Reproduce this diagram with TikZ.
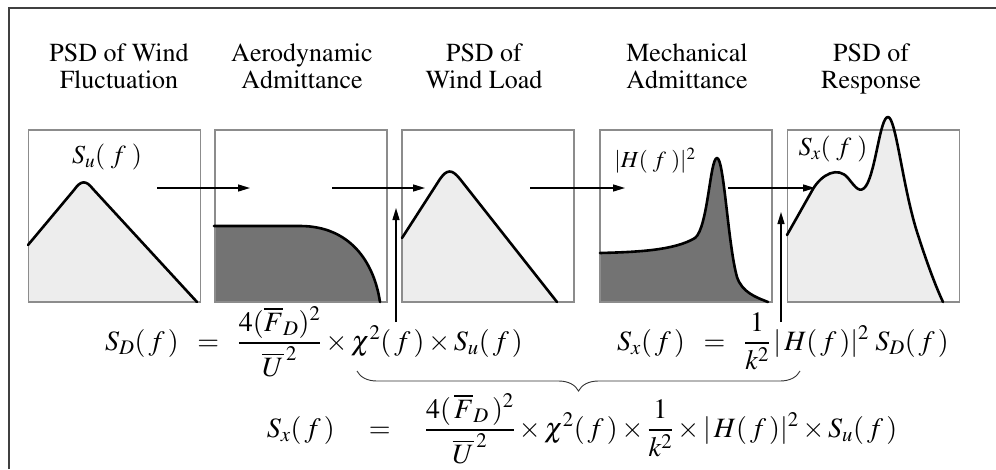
\documentclass[tikz,border=0pt]{standalone}
\usepackage{amsmath}
\usepackage[T1]{fontenc}
\usepackage{mathptmx}
\usepackage{tikz}
\usetikzlibrary{arrows.meta, positioning, calc, decorations.pathreplacing}

\begin{document}
\begin{tikzpicture}[
    x=1pt, y=-1pt,
    ttl/.style={
      align=center, inner sep=0pt,
      font=\fontfamily{ptm}\fontsize{26}{27}\selectfont
    },
    panel/.style={
      rectangle, draw=black!45, line width=1.8pt,
      minimum width=172pt, minimum height=172pt, inner sep=0pt
    },
    curve/.style={line width=2.6pt, line join=round, line cap=round},
    lightfill/.style={fill=black!7},
    darkfill/.style={fill=black!55},
    lab/.style={inner sep=0pt, font=\fontsize{26}{28}\selectfont},
    eq/.style={inner sep=1pt, anchor=base, font=\fontsize{28}{30}\selectfont},
    arr/.style={-{Triangle[length=12pt, width=7pt]}, line width=1.4pt},
    brace/.style={decorate, decoration={brace, mirror, amplitude=20pt}, line width=0.9pt, black!80}
  ]
    \useasboundingbox (0,0) rectangle (996,469);
    \draw[line width=1.5pt, black!75] (9,469) -- (9,8) -- (996,8);

    % titles
    \node[ttl] (title1) at (119,70) {PSD of Wind\strut\\Fluctuation\strut};
    \node[ttl] (title2) at (302,70) {Aerodynamic\strut\\Admittance\strut};
    \node[ttl] (title3) at (484,70) {PSD of\strut\\Wind Load\strut};
    \node[ttl] (title4) at (687,70) {Mechanical\strut\\Admittance\strut};
    \node[ttl] (title5) at (871,70) {PSD of\strut\\Response\strut};

    % areas under the curves
    \fill[lightfill] (28,245) -- (74,190) .. controls (81,180) and (86,180) .. (93,189) -- (197,302) -- (28,302) -- cycle;
    \fill[darkfill] (214,226) -- (300,226) .. controls (350,226) and (374,262) .. (380,302) -- (214,302) -- cycle;
    \fill[lightfill] (402,238) -- (440,179) .. controls (447,169) and (452,169) .. (460,179) -- (557,302) -- (402,302) -- cycle;
    \fill[darkfill] (600,253) .. controls (640,252) and (675,250) .. (695,238)
      .. controls (708,228) and (710,158) .. (717,158)
      .. controls (724,158) and (728,245) .. (737,277)
      .. controls (742,292) and (755,297) .. (768,302) -- (600,302) -- cycle;
    \fill[lightfill] (787,235) -- (813,189) .. controls (822,174) and (838,166) .. (848,178)
      .. controls (856,188) and (860,194) .. (866,186)
      .. controls (876,170) and (880,117) .. (888,117)
      .. controls (896,117) and (903,190) .. (918,235)
      .. controls (926,260) and (935,285) .. (943,302) -- (787,302) -- cycle;

    % panels
    \node[panel] (panel1) at (114.5,216) {};
    \node[panel] (panel2) at (301,216) {};
    \node[panel] (panel3) at (488,216) {};
    \node[panel] (panel4) at (686,216) {};
    \node[panel] (panel5) at (873.5,216) {};

    % curves
    \draw[curve] (28,245) -- (74,190) .. controls (81,180) and (86,180) .. (93,189) -- (197,302);
    \draw[curve] (214,226) -- (300,226) .. controls (350,226) and (374,262) .. (380,302);
    \draw[curve] (402,238) -- (440,179) .. controls (447,169) and (452,169) .. (460,179) -- (557,302);
    \draw[curve] (600,253) .. controls (640,252) and (675,250) .. (695,238)
      .. controls (708,228) and (710,158) .. (717,158)
      .. controls (724,158) and (728,245) .. (737,277)
      .. controls (742,292) and (755,297) .. (768,302);
    \draw[curve] (787,235) -- (813,189) .. controls (822,174) and (838,166) .. (848,178)
      .. controls (856,188) and (860,194) .. (866,186)
      .. controls (876,170) and (880,117) .. (888,117)
      .. controls (896,117) and (903,190) .. (918,235)
      .. controls (926,260) and (935,285) .. (943,302);

    % labels in panels
    \node[lab] (lab1) at (107,157) {$S_{u}(\;f\;)$};
    \node[lab, font=\fontsize{23}{25}\selectfont] (lab4) at (655,161) {$|H(\;f\;)|^{2}$};
    \node[lab] (lab5) at (833,149) {$S_{x}(\;f\;)$};

    % formulas
    \node[eq] (eqload) at (314,350) {$S_{D}(\,f\,) \;\;=\;\; \dfrac{4(\overline{F}_{D})^{2}}{\overline{U}^{\,2}}\times\chi^{2}(\,f\,)\times S_{u}(\,f\,)$};
    \node[eq] (eqresp) at (783,350) {$S_{x}(\,f\,) \;\;=\;\; \dfrac{1}{k^{2}}\,|\,H(\,f\,)|^{2}\;S_{D}(\,f\,)$};
    \node[eq] (eqtotal) at (582,437) {$S_{x}(\,f\,) \quad=\quad \dfrac{4(\,\overline{F}_{D}\,)^{2}}{\overline{U}^{\,2}}\times\chi^{2}(\,f\,)\times\dfrac{1}{k^{2}}\times|\,H(\,f\,)|^{2}\times S_{u}(\,f\,)$};

    % arrows
    \coordinate (go1) at (157,188);
    \coordinate (to1) at (250,188);
    \coordinate (go2) at (332,188);
    \coordinate (to2) at (425,188);
    \coordinate (go3) at (530,188);
    \coordinate (to3) at (625,188);
    \coordinate (go4) at (728,188);
    \coordinate (to4) at (815,188);
    \coordinate (upA) at (396,208);
    \coordinate (upB) at (781,212);
    \coordinate (dnA) at (396,322);
    \coordinate (dnB) at (781,322);
    \draw[arr] (go1) -- (to1);
    \draw[arr] (go2) -- (to2);
    \draw[arr] (go3) -- (to3);
    \draw[arr] (go4) -- (to4);
    \draw[arr] (dnA) -- (upA);
    \draw[arr] (dnB) -- (upB);

    % brace
    \coordinate (brL) at (357,371);
    \coordinate (brR) at (800,371);
    \draw[brace] (brL) -- (brR);
  \end{tikzpicture}
\end{document}
